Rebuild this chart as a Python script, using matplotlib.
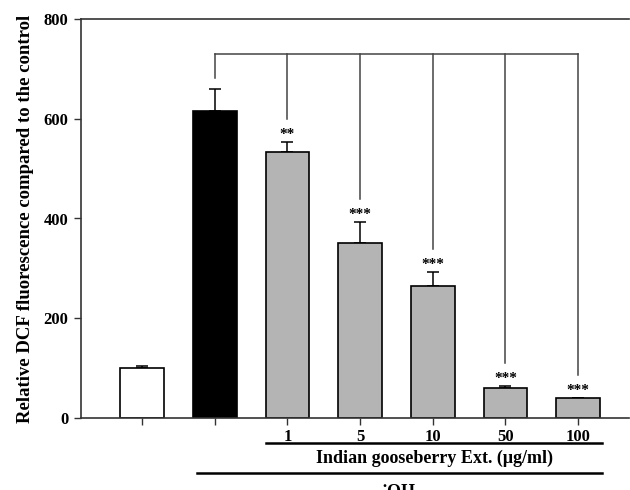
import matplotlib
matplotlib.use("Agg")
import matplotlib.pyplot as plt
from matplotlib.lines import Line2D
from matplotlib.transforms import blended_transform_factory

# Data
groups = ["control", "OH", "1", "5", "10", "50", "100"]
tick_labels = ["", "", "1", "5", "10", "50", "100"]
means = [100, 615, 533, 351, 265, 60, 40]
errors = [4, 45, 20, 42, 28, 4, 0]
stars = ["", "", "**", "***", "***", "***", "***"]
bar_colors = ["white", "black", "#b4b4b4", "#b4b4b4", "#b4b4b4", "#b4b4b4", "#b4b4b4"]

serif = ["Liberation Serif", "DejaVu Serif"]
plt.rcParams["font.family"] = serif
plt.rcParams["font.weight"] = "bold"

fig = plt.figure(figsize=(6.3, 4.9), dpi=100)
ax = fig.add_axes([81 / 630, 1 - 418 / 490, (629 - 81) / 630, (418 - 19) / 490])

x = list(range(len(groups)))
ax.bar(x, means, width=0.6, color=bar_colors, edgecolor="black", linewidth=1.2, zorder=2)
ax.errorbar(x, means, yerr=[[0] * len(errors), errors], fmt="none", ecolor="black",
            elinewidth=1.1, capsize=4.5, capthick=1.1, zorder=1)

ax.set_xlim(-0.84, 6.70)
ax.set_ylim(0, 800)
ax.set_yticks([0, 200, 400, 600, 800])
ax.set_yticklabels(["0", "200", "400", "600", "800"], fontsize=12, fontweight="bold")
ax.set_xticks(x)
ax.set_xticklabels(tick_labels, fontsize=12, fontweight="bold")
ax.tick_params(axis="both", direction="out", length=5, width=1, color="#333333")
ax.tick_params(axis="x", pad=3)
ax.tick_params(axis="y", pad=4)
for side in ["left", "bottom", "top"]:
    ax.spines[side].set_linewidth(1.2)
    ax.spines[side].set_color("#333333")
ax.spines["right"].set_visible(False)

ax.set_ylabel("Relative DCF fluorescence compared to the control", fontsize=13.5,
              fontweight="bold", labelpad=7)

# Comparison bracket from the OH group to each extract dose
bracket_y = 730
ref = 1
ref_top = means[ref] + errors[ref]
ax.plot([ref, ref], [ref_top + 22, bracket_y], color="#444444", lw=1.1, clip_on=False)
ax.plot([ref, x[-1]], [bracket_y, bracket_y], color="#444444", lw=1.1, clip_on=False)
for i in range(2, len(groups)):
    top = means[i] + errors[i]
    ax.plot([i, i], [top + 46, bracket_y], color="#444444", lw=1.1)
    ax.text(i, top + 8, stars[i], ha="center", va="baseline", fontsize=11,
            fontweight="bold")

# Group annotations beneath the axis
tr = blended_transform_factory(ax.transData, fig.transFigure)
fig.add_artist(Line2D([1.70, 6.33], [1 - 443 / 490] * 2, transform=tr, color="black",
                      lw=1.8))
fig.text(4.02, 1 - 458 / 490, "Indian gooseberry Ext. (\u03bcg/ml)", transform=tr,
         ha="center", va="center", fontsize=13, fontweight="bold")
fig.add_artist(Line2D([0.76, 6.33], [1 - 473 / 490] * 2, transform=tr, color="black",
                      lw=1.8))
fig.text(3.53, 1 - 492 / 490, "\u02d9OH", transform=tr, ha="center", va="center",
         fontsize=13, fontweight="bold")

fig.savefig("out.png", dpi=100)
